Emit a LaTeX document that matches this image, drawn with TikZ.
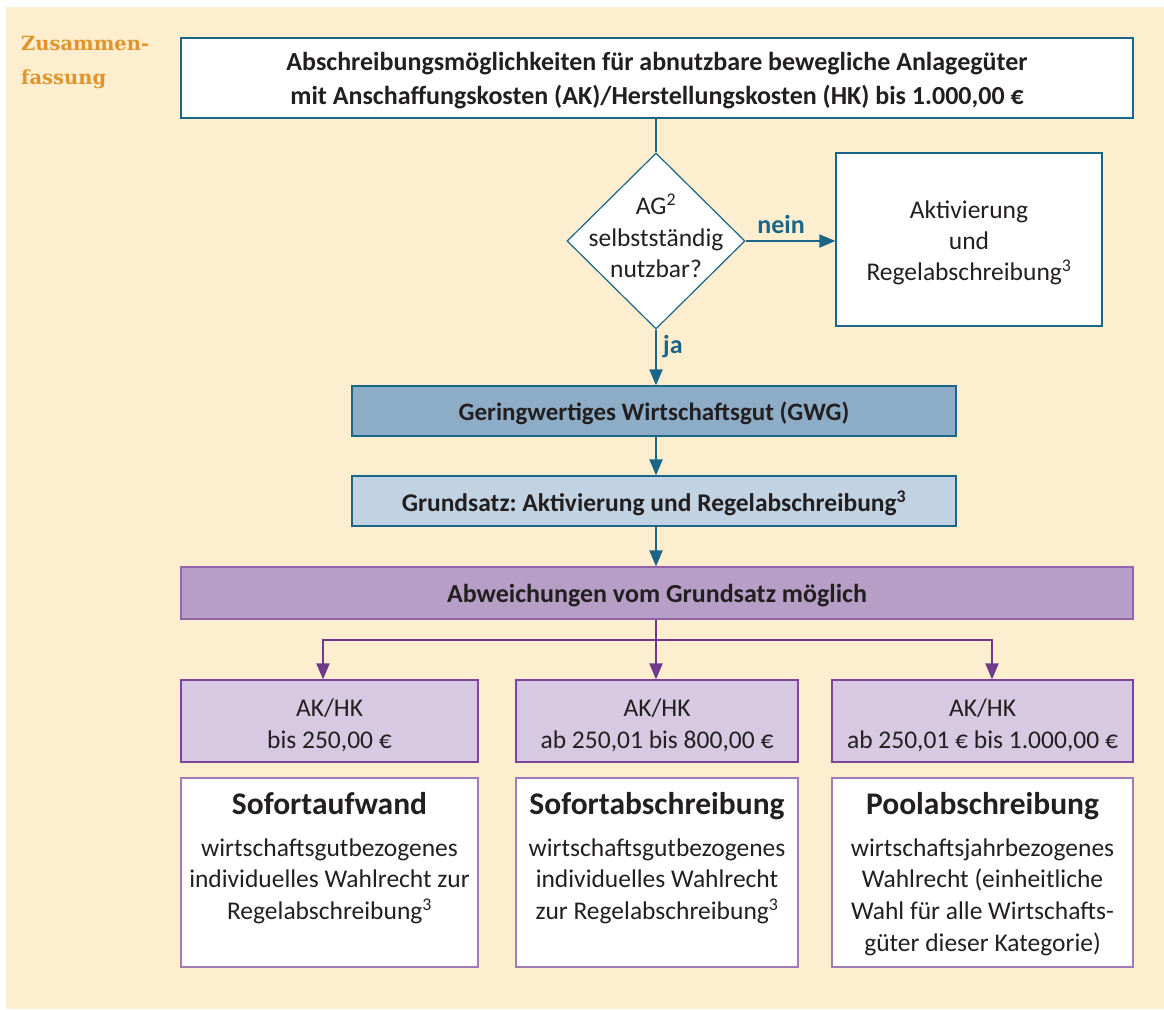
\documentclass[tikz,border=0pt]{standalone}
\usepackage{fontspec}
\setmainfont{Carlito}
\newfontfamily\titlefont{DejaVu Serif}
\usetikzlibrary{arrows.meta,shapes.geometric}
\definecolor{cream}{HTML}{FDEED0}
\definecolor{blueline}{HTML}{1A6688}
\definecolor{gwgfill}{HTML}{8DACC6}
\definecolor{grundfill}{HTML}{C1D3E2}
\definecolor{abwfill}{HTML}{B79EC7}
\definecolor{abwdraw}{HTML}{9364AC}
\definecolor{aklight}{HTML}{D7C9E1}
\definecolor{akdraw}{HTML}{7E449B}
\definecolor{purpline}{HTML}{6F3A8C}
\definecolor{resdraw}{HTML}{A07BB6}
\definecolor{orangetxt}{HTML}{E1942B}
\definecolor{txt}{HTML}{231F20}
\tikzset{
  bbox/.style={draw=blueline, line width=1.2pt, fill=white, inner sep=0pt},
  gwgbox/.style={draw=blueline, line width=1.2pt, fill=gwgfill, inner sep=0pt},
  grundbox/.style={draw=blueline, line width=1.2pt, fill=grundfill, inner sep=0pt},
  abwbox/.style={draw=abwdraw, line width=1.2pt, fill=abwfill, inner sep=0pt},
  akbox/.style={draw=akdraw, line width=1.2pt, fill=aklight, inner sep=0pt},
  resbox/.style={draw=resdraw, line width=1.2pt, fill=white, inner sep=0pt},
  tx/.style={align=center, text=txt, inner sep=0pt},
  bfl/.style={tx, font=\bfseries\fontsize{25.5}{30}\selectfont},
  akt/.style={tx, font=\fontsize{25.5}{32}\selectfont},
  restext/.style={anchor=north, align=center, text=txt, inner sep=0pt, font=\fontsize{25.5}{31.7}\selectfont},
  bluearrow/.style={draw=blueline, line width=2pt, -{Triangle[length=16pt,width=13pt]}},
  blueline/.style={draw=blueline, line width=2pt},
  purparrow/.style={draw=purpline, line width=2pt, -{Triangle[length=16pt,width=13pt]}},
  purpline/.style={draw=purpline, line width=2pt},
  lbl/.style={text=blueline, font=\bfseries\fontsize{26}{30}\selectfont, inner sep=0pt},
}
\begin{document}
\frenchspacing
\begin{tikzpicture}[x=1pt,y=-1pt]
\useasboundingbox (0,0) rectangle (1164,1009);
\fill[white] (0,0) rectangle (1164,1009);
\fill[cream] (6,7) rectangle (1164,1009);

\node[anchor=north west, align=left, text=orangetxt, inner sep=0pt,
      font=\titlefont\bfseries\fontsize{19.5}{33.5}\selectfont] (title) at (21,36.5) {Zusammen-\\fassung};

% boxes
\node[bbox, minimum width=952pt, minimum height=80pt] (top) at (657,78) {};
\node[tx, font=\bfseries\fontsize{26}{34}\selectfont] (topt) at ([yshift=-2.5pt]top.center)
  {Abschreibungsmöglichkeiten für abnutzbare bewegliche Anlagegüter\\mit Anschaffungskosten (AK)/Herstellungskosten (HK) bis 1.000,00 €};

\node[diamond, draw=blueline, line width=1.2pt, fill=white, minimum width=178pt, minimum height=176pt, inner sep=0pt] (dia) at (656,241) {};
\node[tx, font=\fontsize{25.5}{31.5}\selectfont] (diat) at (656,236) {AG\textsuperscript{2}\\selbstständig\\nutzbar?};

\node[bbox, minimum width=266pt, minimum height=173pt] (akt) at (969,239.5) {};
\node[tx, font=\fontsize{25.5}{31}\selectfont] (aktt) at ([yshift=-3.5pt]akt.center) {Aktivierung\\und\\Regelabschreibung\textsuperscript{3}};

\node[gwgbox, minimum width=604pt, minimum height=50pt] (gwg) at (654,411) {};
\node[bfl, font=\bfseries\fontsize{25}{30}\selectfont] (gwgt) at ([yshift=-2pt]gwg.center) {Geringwertiges Wirtschaftsgut (GWG)};
\node[grundbox, minimum width=604pt, minimum height=50pt] (grund) at (654,501) {};
\node[bfl] (grundt) at ([yshift=-2pt]grund.center) {Grundsatz: Aktivierung und Regelabschreibung\textsuperscript{3}};
\node[abwbox, minimum width=952pt, minimum height=52pt] (abw) at (657,593) {};
\node[bfl, font=\bfseries\fontsize{26}{30}\selectfont] (abwt) at ([yshift=-3pt]abw.center) {Abweichungen vom Grundsatz möglich};

\node[akbox, minimum width=297pt, minimum height=82pt] (ak1) at (329.5,721) {};
\node[akbox, minimum width=282pt, minimum height=82pt] (ak2) at (657,721) {};
\node[akbox, minimum width=301pt, minimum height=82pt] (ak3) at (982.5,721) {};
\node[akt] (ak1t) at ([yshift=-4.5pt]ak1.center) {AK/HK\\bis 250,00 €};
\node[akt] (ak2t) at ([yshift=-4.5pt]ak2.center) {AK/HK\\ab 250,01 bis 800,00 €};
\node[akt] (ak3t) at ([yshift=-4.5pt]ak3.center) {AK/HK\\ab 250,01 € bis 1.000,00 €};

\node[resbox, minimum width=297pt, minimum height=189pt] (r1) at (329.5,872.5) {};
\node[resbox, minimum width=282pt, minimum height=189pt] (r2) at (657,872.5) {};
\node[resbox, minimum width=301pt, minimum height=189pt] (r3) at (982.5,872.5) {};

\node[restext] (r1t) at (329.5,792) {{\bfseries\fontsize{31.5}{36}\selectfont Sofortaufwand}\\[10pt]wirtschaftsgutbezogenes\\individuelles Wahlrecht zur\\Regelabschreibung\textsuperscript{3}};
\node[restext] (r2t) at (657,792) {{\bfseries\fontsize{31.5}{36}\selectfont Sofortabschreibung}\\[10pt]wirtschaftsgutbezogenes\\individuelles Wahlrecht\\zur Regelabschreibung\textsuperscript{3}};
\node[restext] (r3t) at (982.5,792) {{\bfseries\fontsize{31.5}{36}\selectfont Poolabschreibung}\\[10pt]wirtschaftsjahrbezogenes\\Wahlrecht (einheitliche\\Wahl für alle Wirtschafts-\\güter dieser Kategorie)};

% connectors
\draw[blueline] (top.south -| dia.north) -- (dia.north);
\draw[bluearrow] (dia.east) -- (dia.east -| akt.west);
\draw[bluearrow] (dia.south) -- (dia.south |- gwg.north);
\draw[bluearrow] (gwg.south -| 656,0) -- (grund.north -| 656,0);
\draw[bluearrow] (grund.south -| 656,0) -- (abw.north -| 656,0);

\coordinate (br) at (656,640);
\draw[purpline] (abw.south -| br) -- (br);
\draw[purparrow] (br) -| (ak1.north -| 323,0);
\draw[purparrow] (br) -- (ak2.north -| br);
\draw[purparrow] (br) -| (ak3.north -| 992,0);

\node[lbl, anchor=south] (nein) at (781,234) {nein};
\node[lbl, anchor=west] (ja) at (663,347) {ja};
\end{tikzpicture}
\end{document}
